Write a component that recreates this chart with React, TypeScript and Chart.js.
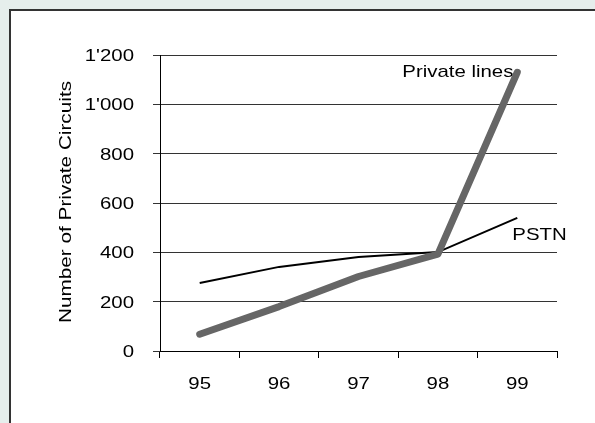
import React, { useEffect, useRef } from "react";
import { Chart, registerables } from "chart.js";

Chart.register(...registerables);

const categories = ["95", "96", "97", "98", "99"];
const privateLines = [68, 180, 302, 393, 1130];
const pstn = [276, 341, 381, 401, 540];
const yTickValues = [0, 200, 400, 600, 800, 1000, 1200];
const yTitle = "Number of Private Circuits";
const privateLabel = "Private lines";
const pstnLabel = "PSTN";

const FONT = '"Liberation Sans", Arial, sans-serif';
const FONT_SIZE = 17;
const STRETCH = 1.2;

const fmt = (v: number) => String(v).replace(/\B(?=(\d{3})+(?!\d))/g, "'");

// draws horizontally widened text (the reference uses a wide sans face)
function wideText(
  ctx: CanvasRenderingContext2D,
  text: string,
  x: number,
  y: number,
  align: CanvasTextAlign,
  rotate = 0,
  stretch = STRETCH
) {
  ctx.save();
  ctx.translate(x, y);
  if (rotate) ctx.rotate(rotate);
  ctx.scale(stretch, 1);
  ctx.textAlign = align;
  ctx.textBaseline = "alphabetic";
  ctx.fillText(text, 0, 0);
  ctx.restore();
}

const textPlugin = {
  id: "wideTexts",
  beforeDatasetsDraw(chart: any) {
    const { ctx, scales } = chart;
    const x = scales.x;
    const y = scales.y;
    ctx.save();
    ctx.fillStyle = "#000";
    ctx.font = `${FONT_SIZE}px ${FONT}`;
    // series labels (under the lines)
    wideText(ctx, privateLabel, x.getPixelForValue(4) - 115, y.getPixelForValue(1110), "left");
    wideText(ctx, pstnLabel, x.getPixelForValue(4) - 5, y.getPixelForValue(450), "left");
    ctx.restore();
  },
  afterDraw(chart: any) {
    const { ctx, scales, chartArea } = chart;
    const x = scales.x;
    const y = scales.y;
    ctx.save();
    ctx.fillStyle = "#000";
    ctx.font = `${FONT_SIZE}px ${FONT}`;
    // y tick labels
    yTickValues.forEach((v) => {
      wideText(ctx, fmt(v), chartArea.left - 26, y.getPixelForValue(v) + 6, "right");
    });
    // x tick labels
    categories.forEach((c, i) => {
      wideText(ctx, c, x.getPixelForValue(i), chartArea.bottom + 38, "center");
    });
    // y title
    wideText(
      ctx,
      yTitle,
      chartArea.left - 89,
      (chartArea.top + chartArea.bottom) / 2 - 1,
      "center",
      -Math.PI / 2,
      1.22
    );
    ctx.restore();
  },
};

export default function App() {
  const ref = useRef<HTMLCanvasElement | null>(null);

  useEffect(() => {
    document.body.style.margin = "0";
    const canvas = ref.current;
    if (!canvas) return;
    const chart = new Chart(canvas, {
      type: "line",
      data: {
        labels: categories,
        datasets: [
          {
            label: privateLabel,
            data: privateLines,
            borderColor: "#666666",
            borderWidth: 7,
            borderCapStyle: "round",
            borderJoinStyle: "round",
            pointRadius: 0,
            tension: 0,
            fill: false,
          },
          {
            label: pstnLabel,
            data: pstn,
            borderColor: "#000000",
            borderWidth: 2,
            pointRadius: 0,
            tension: 0,
            fill: false,
          },
        ],
      },
      options: {
        animation: false,
        responsive: false,
        devicePixelRatio: 1,
        layout: { padding: { top: 55, right: 38, left: 0, bottom: 0 } },
        plugins: {
          legend: { display: false },
          tooltip: { enabled: false },
        },
        scales: {
          x: {
            type: "category",
            offset: true,
            grid: {
              offset: true,
              drawOnChartArea: false,
              drawTicks: true,
              tickLength: 7,
              color: "#000",
            },
            border: { display: true, color: "#000", width: 1 },
            ticks: { display: false },
            afterFit: (s: any) => {
              s.height = 72;
            },
          },
          y: {
            min: 0,
            max: 1200,
            afterBuildTicks: (s: any) => {
              s.ticks = yTickValues.map((v) => ({ value: v }));
            },
            grid: {
              color: "#333",
              drawTicks: true,
              tickLength: 7,
            },
            border: { display: true, color: "#000", width: 1 },
            ticks: { display: false },
            title: { display: false },
            afterFit: (s: any) => {
              s.width = 160;
            },
          },
        },
      },
      plugins: [textPlugin],
    });
    return () => chart.destroy();
  }, []);

  return (
    <div
      style={{
        position: "fixed",
        left: 0,
        top: 0,
        width: 595,
        height: 423,
        background: "#e6eeec",
        overflow: "hidden",
      }}
    >
      <div
        style={{
          position: "absolute",
          left: 9,
          top: 9,
          right: 0,
          bottom: 0,
          background: "#ffffff",
          borderLeft: "2px solid #333",
          borderTop: "2px solid #333",
        }}
      />
      <canvas
        ref={ref}
        width={595}
        height={423}
        style={{ position: "absolute", left: 0, top: 0, width: 595, height: 423 }}
      />
    </div>
  );
}
